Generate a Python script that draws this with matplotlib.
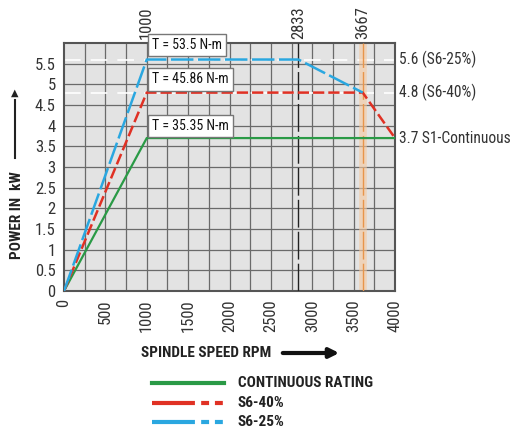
import matplotlib
matplotlib.use("Agg")
import matplotlib.pyplot as plt
from matplotlib.lines import Line2D
from matplotlib import font_manager

names = {f.name for f in font_manager.fontManager.ttflist}
pick = None
for cand in ['Roboto Condensed', 'Liberation Sans Narrow', 'Barlow Semi Condensed', 'Archivo Narrow', 'Barlow Condensed']:
    if cand in names:
        pick = cand
        break
plt.rcParams['font.family'] = [pick, 'DejaVu Sans'] if pick else ['DejaVu Sans']

# data
cont_x = [0, 1000, 4000]
cont_y = [0, 3.7, 3.7]
s640_x = [0, 1000, 3610, 4000]
s640_y = [0, 4.8, 4.8, 3.7]
s625_x = [0, 1000, 2833, 3610]
s625_y = [0, 5.6, 5.6, 4.8]
vline_pos = [2833, 3610]
top_tick_pos = [1000, 2833, 3610]
top_tick_labels = ['1000', '2833', '3667']
x_ticks = [0, 500, 1000, 1500, 2000, 2500, 3000, 3500, 4000]
y_ticks = [0, 0.5, 1, 1.5, 2, 2.5, 3, 3.5, 4, 4.5, 5, 5.5]
y_tick_labels = ['0', '0.5', '1', '1.5', '2', '2.5', '3', '3.5', '4', '4.5', '5', '5.5']
right_vals = [5.6, 4.8, 3.7]
right_texts = ['5.6 (S6-25%)', '4.8 (S6-40%)', '3.7 S1-Continuous']
torque_vals = [5.95, 5.12, 4.0]
torque_texts = ['T = 53.5 N-m', 'T = 45.86 N-m', 'T = 35.35 N-m']
legend_labels = ['CONTINUOUS RATING', 'S6-40%', 'S6-25%']

GREEN = '#2a9a46'
RED = '#e03124'
BLUE = '#2aa7e0'
TXT = '#333333'

W, H = 515, 434
fig = plt.figure(figsize=(W/100, H/100), dpi=100)
ax = fig.add_axes([64/W, 1-291/H, (395-64)/W, (291-43)/H])
ax.set_facecolor('#e3e3e3')
ax.set_xlim(0, 4000)
ax.set_ylim(0, 6)

# grid
for gx in range(250, 4000, 250):
    ax.axvline(gx, color='#6a6a6a', lw=0.9, zorder=1)
for gy in [i*0.5 for i in range(1, 12)]:
    ax.axhline(gy, color='#6a6a6a', lw=0.9, zorder=1)

# reference white dashed lines
ax.axhline(right_vals[0], color='white', lw=1.2, dashes=(10, 6), zorder=2)
ax.axhline(right_vals[1], color='white', lw=1.2, dashes=(10, 6), zorder=2)

# vertical marker lines
ax.axvline(vline_pos[1], color='#f6c9a0', lw=5.5, alpha=0.6, zorder=2)
ax.axvline(vline_pos[0], color='#222222', lw=1.0, dashes=(20, 3), zorder=3)
ax.axvline(vline_pos[1], color='#e8954a', lw=1.0, dashes=(20, 3), zorder=3)

ax.plot(cont_x, cont_y, color=GREEN, lw=1.6, zorder=4)
ax.plot(s640_x, s640_y, color=RED, lw=1.8, dashes=(4.5, 1.6), zorder=5)
ax.plot(s625_x, s625_y, color=BLUE, lw=1.8, dashes=(9, 1.8), zorder=6)

ax.set_xticks(x_ticks)
ax.set_xticklabels([str(t) for t in x_ticks], rotation=90, fontsize=12, color=TXT)
ax.set_yticks(y_ticks)
ax.set_yticklabels(y_tick_labels, fontsize=12, color=TXT)
ax.tick_params(length=0, pad=6)
for s in ax.spines.values():
    s.set_color('#555555')
    s.set_linewidth(1.5)

# top ticks
for p, l in zip(top_tick_pos, top_tick_labels):
    ax.text(p, 6.1, l, rotation=90, ha='center', va='bottom', fontsize=12, color=TXT)

# right labels
for v, l in zip(right_vals, right_texts):
    ax.text(4050, v, l, ha='left', va='center', fontsize=11.2, color=TXT, clip_on=False)

# torque boxes
for v, l in zip(torque_vals, torque_texts):
    ax.text(1065, v, l, ha='left', va='center', fontsize=10, color='#111111',
            bbox=dict(boxstyle='square,pad=0.3', fc='white', ec='#777777', lw=1.0), zorder=8)

# axis labels
fig.text(17/W, 1-215/H, 'POWER IN  kW', rotation=90, ha='center', va='center',
         fontsize=11, fontweight='bold', color='#222222')
fig.add_artist(Line2D([15/W, 15/W], [1-158/H, 1-100/H], color='#222222', lw=1.5))
fig.text(15/W, 1-93/H, '▲', ha='center', va='center', fontsize=7, color='#222222',
         family='DejaVu Sans')

fig.text(141/W, 1-353/H, 'SPINDLE SPEED RPM', ha='left', va='center',
         fontsize=11, fontweight='bold', color='#222222')
ax.annotate('', xy=(342/W, 1-353/H), xytext=(280/W, 1-353/H), xycoords='figure fraction',
            arrowprops=dict(arrowstyle='-|>', color='#111111', lw=3, mutation_scale=14))

# legend
leg_y = [383, 403, 422]
styles = [dict(color=GREEN, lw=3),
          dict(color=RED, lw=3, dashes=(10.3, 1.5, 1.9, 1.4, 1.9, 1.4)),
          dict(color=BLUE, lw=3, dashes=(10.3, 1.5, 1.9, 1.4, 1.9, 1.4))]
for y, st, lab in zip(leg_y, styles, legend_labels):
    fig.add_artist(Line2D([152/W, 224/W], [1-y/H, 1-y/H], **st))
    fig.text(238/W, 1-y/H, lab, ha='left', va='center', fontsize=11, fontweight='bold', color='#222222')

fig.savefig('out.png', dpi=100)
